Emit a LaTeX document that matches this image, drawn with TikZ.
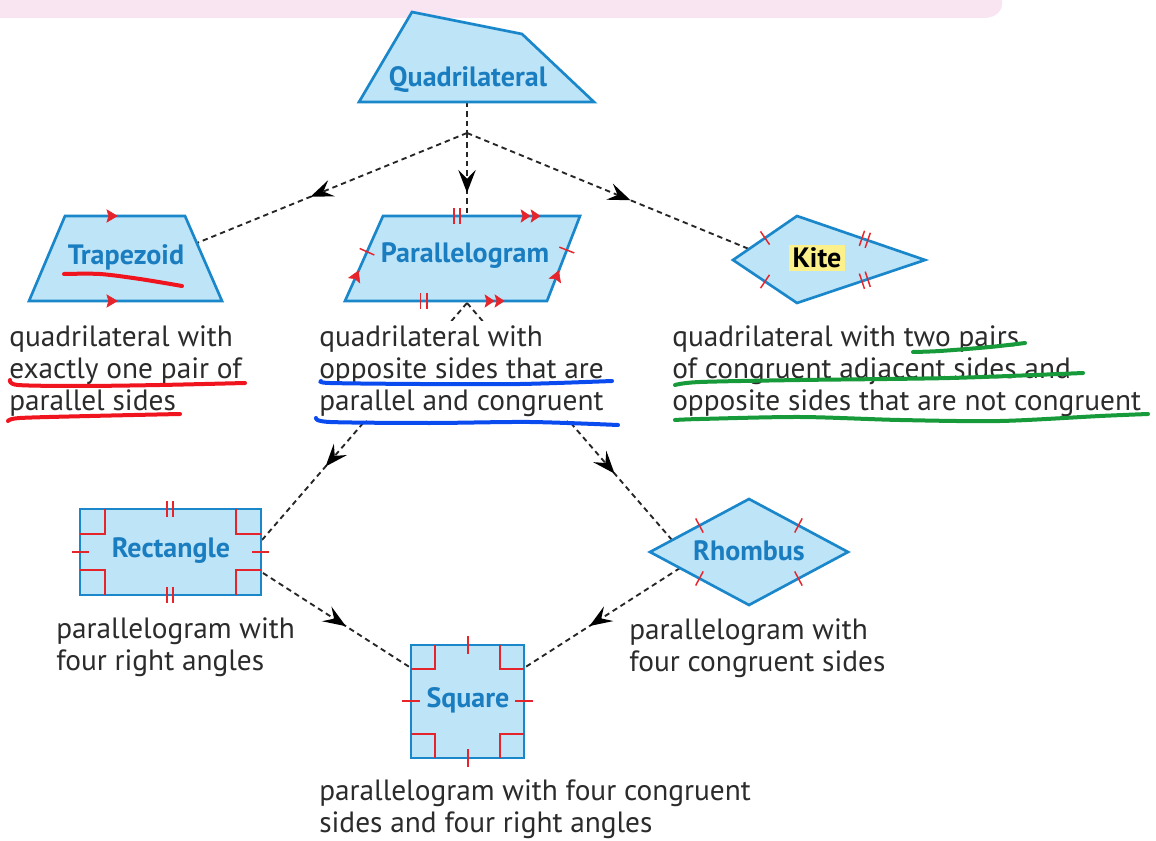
\documentclass[tikz,border=0pt]{standalone}
\usepackage{fontspec}
\setmainfont{PT Sans}
\usetikzlibrary{arrows.meta,decorations.markings,calc}
\definecolor{shfill}{HTML}{BEE4F8}
\definecolor{shdraw}{HTML}{1B87CB}
\definecolor{lblue}{HTML}{1A7DC0}
\definecolor{mred}{HTML}{E5252B}
\definecolor{pinkband}{HTML}{F9E4F2}
\definecolor{kiteyel}{HTML}{FCF08A}
\definecolor{penred}{HTML}{F0141E}
\definecolor{penblue}{HTML}{0A4BF0}
\definecolor{pengreen}{HTML}{169A3A}
\definecolor{txt}{HTML}{2B2B2B}
\tikzset{
  shapebox/.style={fill=shfill, draw=shdraw, line width=2pt, line join=miter},
  lbl/.style={text=lblue, font=\bfseries\fontsize{21}{24}\selectfont, inner sep=1pt},
  desc/.style={text=txt, font=\fontsize{22}{24}\selectfont, align=left, anchor=north west,
    fill=white, inner xsep=0pt, inner ysep=3pt},
  conn/.style={draw=black!85, line width=1.4pt, dash pattern=on 4pt off 3pt},
  midarrow/.style={postaction={decorate, decoration={markings,
    mark=at position #1 with {\arrow[black, solid]{Stealth[length=17pt,width=13pt,inset=6.5pt]}}}}},
  mk/.style={draw=mred, line width=1.1pt},
  onetick/.style={decorate, decoration={markings, mark=at position #1 with {\draw[mk] (0,-6pt)--(0,6pt);}}},
  twotick/.style={decorate, decoration={markings, mark=at position #1 with {\draw[mk] (-2.3pt,-6pt)--(-2.3pt,6pt) (2.3pt,-6pt)--(2.3pt,6pt);}}},
  onearr/.style={decorate, decoration={markings, mark=at position #1 with {\arrow[mred]{Stealth[length=8.5pt,width=10pt,inset=1.5pt]}}}},
  twoarr/.style={decorate, decoration={markings, mark=at position #1 with {\arrow[mred]{Stealth[length=7.5pt,width=10pt,inset=1.5pt]Stealth[length=7.5pt,width=10pt,inset=1.5pt]}}}},
  pen/.style={line width=3pt, line cap=round, line join=round},
}
\begin{document}
\begin{tikzpicture}[x=0.75pt,y=-0.75pt]
\useasboundingbox (0,0) rectangle (1156,841);
\fill[white] (0,0) rectangle (1156,841);
% pink highlighter band
\fill[pinkband] (0,0) -- (1002,0) -- (1002,4) to[out=-90,in=0] (984,18) -- (0,18) -- cycle;

% ---------- coordinates ----------
% Quadrilateral
\coordinate (q1) at (412,12); \coordinate (q2) at (522,34);
\coordinate (q3) at (594,102); \coordinate (q4) at (359,102);
\coordinate (qb) at (467,102);
\coordinate (J) at (467,133);
% Trapezoid
\coordinate (t1) at (65,216); \coordinate (t2) at (185,216);
\coordinate (t3) at (222,301); \coordinate (t4) at (29,301);
\coordinate (tR) at (197,243);
% Parallelogram
\coordinate (p1) at (383,216); \coordinate (p2) at (580,216);
\coordinate (p3) at (547,301); \coordinate (p4) at (345,301);
\coordinate (pT) at (467,216); \coordinate (pB) at (467,303);
% Kite
\coordinate (k1) at (733,260); \coordinate (k2) at (797,216);
\coordinate (k3) at (925,260); \coordinate (k4) at (797,303);
\coordinate (kL) at (749,249);
% Rectangle
\coordinate (r1) at (80,509); \coordinate (r2) at (261,509);
\coordinate (r3) at (261,595); \coordinate (r4) at (80,595);
\coordinate (rA) at (262,540); \coordinate (rB) at (263,573);
% Rhombus
\coordinate (h1) at (650,552); \coordinate (h2) at (749,499);
\coordinate (h3) at (848,552); \coordinate (h4) at (749,605);
\coordinate (hA) at (672,540); \coordinate (hB) at (680,568);
% Square
\coordinate (s1) at (411,645); \coordinate (s2) at (524,645);
\coordinate (s3) at (524,758); \coordinate (s4) at (411,758);
\coordinate (sL) at (411,668); \coordinate (sR) at (524,668);

% ---------- connectors ----------
\draw[conn] (qb) -- (J);
\draw[conn, midarrow=0.58] (J) -- (tR);
\draw[conn, midarrow=0.72] (J) -- (pT);
\draw[conn, midarrow=0.58] (J) -- (kL);
\draw[conn, midarrow=0.69] (pB) -- (rA);
\draw[conn, midarrow=0.72] (pB) -- (hA);
\draw[conn, midarrow=0.56] (rB) -- (sL);
\draw[conn, midarrow=0.58] (hB) -- (sR);

% ---------- shapes ----------
\draw[shapebox] (q1) -- (q2) -- (q3) -- (q4) -- cycle;
\node[lbl] (quad) at (468,80) {Quadrilateral};

\draw[shapebox] (t1) -- (t2) -- (t3) -- (t4) -- cycle;
\path[onearr=0.44] (t1) -- (t2);
\path[onearr=0.46] (t4) -- (t3);
\node[lbl] (trap) at (126,257) {Trapezoid};

\draw[shapebox] (p1) -- (p2) -- (p3) -- (p4) -- cycle;
\path[twotick=0.376] (p1) -- (p2);
\path[twoarr=0.8] (p1) -- (p2);
\path[twotick=0.39] (p4) -- (p3);
\path[twoarr=0.79] (p4) -- (p3);
\path[onetick=0.58] (p4) -- (p1);
\path[onearr=0.36] (p4) -- (p1);
\path[onetick=0.6] (p3) -- (p2);
\path[onearr=0.36] (p3) -- (p2);
\node[lbl] (para) at (465,256) {Parallelogram};

\draw[shapebox] (k1) -- (k2) -- (k3) -- (k4) -- cycle;
\path[onetick=0.5] (k1) -- (k2);
\path[onetick=0.5] (k1) -- (k4);
\path[twotick=0.53] (k2) -- (k3);
\path[twotick=0.53] (k4) -- (k3);
\node[lbl, text=black, fill=kiteyel, inner xsep=3pt, inner ysep=2pt] (kite) at (817,258) {Kite};

\draw[shapebox] (r1) rectangle (r3);
\draw[mk] (80,534) -| (105,509);
\draw[mk] (261,534) -| (236,509);
\draw[mk] (80,570) -| (105,595);
\draw[mk] (261,570) -| (236,595);
\draw[mk] (167,501) -- (167,517) (173,501) -- (173,517);
\draw[mk] (167,587) -- (167,603) (173,587) -- (173,603);
\draw[mk] (72,552) -- (89,552) (252,552) -- (269,552);
\node[lbl] (rect) at (171,551) {Rectangle};

\draw[shapebox] (h1) -- (h2) -- (h3) -- (h4) -- cycle;
\path[onetick=0.5] (h1) -- (h2);
\path[onetick=0.5] (h2) -- (h3);
\path[onetick=0.5] (h4) -- (h3);
\path[onetick=0.5] (h1) -- (h4);
\node[lbl] (rhom) at (749,551) {Rhombus};

\draw[shapebox] (s1) rectangle (s3);
\draw[mk] (411,669) -| (435,645);
\draw[mk] (524,669) -| (500,645);
\draw[mk] (411,734) -| (435,758);
\draw[mk] (524,734) -| (500,758);
\draw[mk] (468,636) -- (468,654) (468,749) -- (468,767);
\draw[mk] (402,701) -- (420,701) (515,701) -- (533,701);
\node[lbl] (sq) at (468,700) {Square};

% ---------- descriptions ----------
\node[desc] (tdesc) at (9,321) {quadrilateral with\\exactly one pair of\\parallel sides};
\node[desc] (pdesc) at (319,321) {quadrilateral with\\opposite sides that are\\parallel and congruent};
\node[desc] (kdesc) at (672,321) {quadrilateral with two pairs\\of congruent adjacent sides and\\opposite sides that are not congruent};
\node[desc] (rdesc) at (56,613) {parallelogram with\\four right angles};
\node[desc] (hdesc) at (629,614) {parallelogram with\\four congruent sides};
\node[desc] (sdesc) at (319,775) {parallelogram with four congruent\\sides and four right angles};

% ---------- hand-drawn underlines ----------
\draw[pen, penred] plot[smooth] coordinates {(64,274) (100,274) (140,279) (182,286)};
\draw[pen, penred] plot[smooth] coordinates {(10,380) (18,385) (80,386) (160,385) (245,383)};
\draw[pen, penred] plot[smooth] coordinates {(8,421) (20,418) (90,416) (180,414)};
\draw[pen, penblue] plot[smooth] coordinates {(321,381) (330,383) (420,384) (520,384) (612,381)};
\draw[pen, penblue] plot[smooth] coordinates {(316,418) (330,422) (430,423) (530,422) (618,425)};
\draw[pen, pengreen] plot[smooth] coordinates {(913,352) (940,351) (990,347) (1025,343)};
\draw[pen, pengreen] plot[smooth] coordinates {(675,385) (700,382) (800,380) (950,378) (1083,373)};
\draw[pen, pengreen] plot[smooth] coordinates {(675,420) (700,419) (800,417) (900,420) (1000,421) (1100,416) (1148,414)};
\end{tikzpicture}
\end{document}
